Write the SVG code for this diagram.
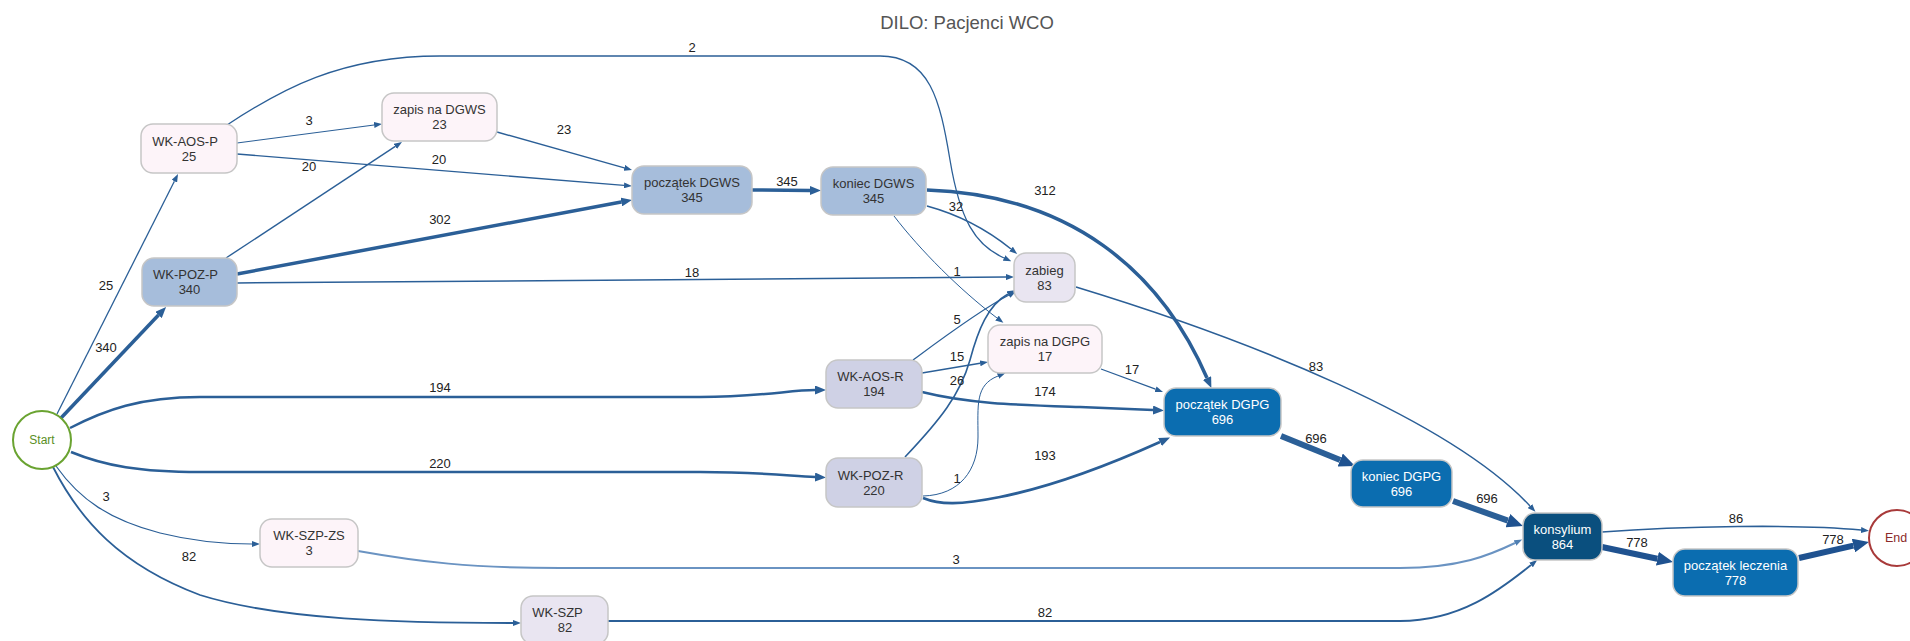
<svg xmlns="http://www.w3.org/2000/svg" width="1910" height="641" viewBox="0 0 1910 641">
<defs>
<style>
text{font-family:"Liberation Sans",Arial,sans-serif}
.title{font-size:18.5px;fill:#555;text-anchor:middle}
.n rect{stroke:#c6c6c6;stroke-width:1.5}
.n text{font-size:13px;fill:#333;text-anchor:middle}
.n.w text{fill:#fff}
.pink rect{fill:#fdf4f9}
.steel rect{fill:#a6bddb}
.lav rect{fill:#e9e5f1}
.lav2 rect{fill:#cfd1e5}
.blue rect{fill:#0b6db0}
.dark rect{fill:#0a4f7e}
.e{fill:none;stroke:#2b5f97}
.lbl{font-size:13px;fill:#222;text-anchor:middle}
</style>
<marker id="a1" markerUnits="userSpaceOnUse" markerWidth="8" markerHeight="6" refX="0" refY="3" orient="auto"><path d="M0,0 L8,3 L0,6 z" fill="#2b5f97"/></marker>
<marker id="a1l" markerUnits="userSpaceOnUse" markerWidth="8" markerHeight="6" refX="0" refY="3" orient="auto"><path d="M0,0 L8,3 L0,6 z" fill="#4f7fb3"/></marker>
<marker id="a2" markerUnits="userSpaceOnUse" markerWidth="11" markerHeight="9" refX="0" refY="4.5" orient="auto"><path d="M0,0 L11,4.5 L0,9 z" fill="#2b5f97"/></marker>
<marker id="a3" markerUnits="userSpaceOnUse" markerWidth="16" markerHeight="14" refX="0" refY="7" orient="auto"><path d="M0,0 L16,7 L0,14 z" fill="#1f5290"/></marker>
</defs>
<rect width="1910" height="641" fill="#fff"/>
<text class="title" x="967" y="29">DILO: Pacjenci WCO</text>

<g id="connectors">
<path class="e" stroke-width="1.3" marker-end="url(#a1)" d="M57,414 L174.4,181.2"/>
<path class="e" stroke-width="3.5" marker-end="url(#a2)" d="M61,418 L158.5,315"/>
<path class="e" stroke-width="2.5" marker-end="url(#a2)" d="M70,428 C105,410 140,397 200,397 L700,397 C760,397 790,390 815,390"/>
<path class="e" stroke-width="2.5" marker-end="url(#a2)" d="M71,452 C105,466 140,472 200,472 L700,472 C760,472 790,476 815,477"/>
<path class="e" stroke-width="1.2" marker-end="url(#a1)" d="M56,466 C80,500 110,520 160,533 C200,543 230,544 252,544"/>
<path class="e" stroke-width="1.8" marker-end="url(#a1)" d="M53,467 C80,520 120,565 200,595 C280,620 400,623 513,623"/>
<path class="e" stroke-width="1.2" marker-end="url(#a1)" d="M237,143 L374.1,125"/>
<path class="e" stroke-width="1.4" marker-end="url(#a1)" d="M237,154 L624,185.4"/>
<path class="e" stroke-width="1.4" marker-end="url(#a1)" d="M226,258 L395.3,146.4"/>
<path class="e" stroke-width="3.5" marker-end="url(#a2)" d="M237,274 L621.2,202"/>
<path class="e" stroke-width="1.5" marker-end="url(#a1)" d="M237,283 L1006,277.1"/>
<path class="e" stroke-width="1.3" marker-end="url(#a1)" d="M227,125 C280,90 340,56 440,56 L880,56 C930,56 940,100 950,160 C960,220 975,245 1004,258"/>
<path class="e" stroke-width="1.4" marker-end="url(#a1)" d="M497,132 L624.3,167.8"/>
<path class="e" stroke-width="3.5" marker-end="url(#a2)" d="M752,190 L810,190.5"/>
<path class="e" stroke-width="1.6" marker-end="url(#a1)" d="M927,206 C960,215 990,232 1011,249"/>
<path class="e" stroke-width="3.5" marker-end="url(#a2)" d="M927,190 C1070,195 1160,270 1207,378"/>
<path class="e" stroke-width="1" marker-end="url(#a1)" d="M894,216 C920,250 960,290 997,318"/>
<path class="e" stroke-width="1.5" marker-end="url(#a1)" d="M1076,287 C1250,340 1450,420 1530,506"/>
<path class="e" stroke-width="1.3" marker-end="url(#a1)" d="M913,360 C940,340 980,310 1009,295"/>
<path class="e" stroke-width="1.4" marker-end="url(#a1)" d="M922,373 L980.1,363.3"/>
<path class="e" stroke-width="2.5" marker-end="url(#a2)" d="M922,392 C970,404 1020,405 1080,407 L1153,410"/>
<path class="e" stroke-width="1.6" marker-end="url(#a1)" d="M905,457 C940,420 960,395 970,360 C978,330 988,305 1008,294"/>
<path class="e" stroke-width="1" marker-end="url(#a1)" d="M923,496 C960,495 978,470 978,437 C978,405 975,385 998,376"/>
<path class="e" stroke-width="2.8" marker-end="url(#a2)" d="M923,498 C940,505 960,505 1000,497 C1060,485 1120,460 1160,442"/>
<path class="e" stroke-width="1.3" marker-end="url(#a1)" d="M1101,369 L1155.5,389.2"/>
<path class="e" stroke-width="6" stroke="#1f5290" marker-end="url(#a3)" d="M1281,436 L1340.2,460"/>
<path class="e" stroke-width="6" stroke="#1f5290" marker-end="url(#a3)" d="M1453,501 L1507.9,520.6"/>
<path class="e" stroke-width="2" style="stroke:#6a93c2" marker-end="url(#a1l)" d="M358,551 C420,562 470,568 560,568 L1400,568 C1460,568 1490,555 1515,543"/>
<path class="e" stroke-width="1.8" marker-end="url(#a1)" d="M608,621 L1400,621 C1460,621 1500,590 1531,565"/>
<path class="e" stroke-width="1.6" marker-end="url(#a1)" d="M1602,532 C1680,526 1800,524 1861,530"/>
<path class="e" stroke-width="6" style="stroke:#1f5290" marker-end="url(#a3)" d="M1602,547 L1657.4,558.7"/>
<path class="e" stroke-width="6" style="stroke:#1f5290" marker-end="url(#a3)" d="M1799,558 L1853.4,545.6"/>
<g class="labels">
<text class="lbl" x="106" y="290">25</text>
<text class="lbl" x="106" y="352">340</text>
<text class="lbl" x="440" y="392">194</text>
<text class="lbl" x="440" y="468">220</text>
<text class="lbl" x="106" y="501">3</text>
<text class="lbl" x="189" y="561">82</text>
<text class="lbl" x="309" y="125">3</text>
<text class="lbl" x="439" y="164">20</text>
<text class="lbl" x="309" y="171">20</text>
<text class="lbl" x="440" y="224">302</text>
<text class="lbl" x="692" y="277">18</text>
<text class="lbl" x="692" y="52">2</text>
<text class="lbl" x="564" y="134">23</text>
<text class="lbl" x="787" y="186">345</text>
<text class="lbl" x="956" y="211">32</text>
<text class="lbl" x="1045" y="195">312</text>
<text class="lbl" x="957" y="276">1</text>
<text class="lbl" x="1316" y="371">83</text>
<text class="lbl" x="957" y="324">5</text>
<text class="lbl" x="957" y="361">15</text>
<text class="lbl" x="1045" y="396">174</text>
<text class="lbl" x="957" y="385">26</text>
<text class="lbl" x="957" y="483">1</text>
<text class="lbl" x="1045" y="460">193</text>
<text class="lbl" x="1132" y="374">17</text>
<text class="lbl" x="1316" y="443">696</text>
<text class="lbl" x="1487" y="503">696</text>
<text class="lbl" x="956" y="564">3</text>
<text class="lbl" x="1045" y="617">82</text>
<text class="lbl" x="1736" y="523">86</text>
<text class="lbl" x="1637" y="547">778</text>
<text class="lbl" x="1833" y="544">778</text>
</g>
</g>

<g id="start"><circle cx="42" cy="440" r="29" fill="#fff" stroke="#6aa331" stroke-width="2"/><text x="42" y="444" font-size="12" fill="#5a8f25" text-anchor="middle">Start</text></g>
<g id="end"><circle cx="1897" cy="538" r="28" fill="#fff" stroke="#a83a3a" stroke-width="2"/><text x="1896" y="542" font-size="12.5" fill="#8b2a2a" text-anchor="middle">End</text></g>

<g id="wk-aos-p" class="n pink"><rect x="141" y="124" width="96" height="49" rx="12"/><text x="185" y="145.5">WK-AOS-P</text><text x="189" y="160.5">25</text></g>
<g id="zapis-dgws" class="n pink"><rect x="382" y="93" width="115" height="48" rx="12"/><text x="439.5" y="114">zapis na DGWS</text><text x="439.5" y="129">23</text></g>
<g id="wk-poz-p" class="n steel"><rect x="142" y="258" width="95" height="48" rx="12"/><text x="185.5" y="279">WK-POZ-P</text><text x="189.5" y="294">340</text></g>
<g id="poczatek-dgws" class="n steel"><rect x="632" y="166" width="120" height="48" rx="12"/><text x="692" y="187">początek DGWS</text><text x="692" y="202">345</text></g>
<g id="koniec-dgws" class="n steel"><rect x="821" y="167" width="105" height="48" rx="12"/><text x="873.5" y="188">koniec DGWS</text><text x="873.5" y="203">345</text></g>
<g id="zabieg" class="n lav"><rect x="1014" y="253" width="61" height="49" rx="12"/><text x="1044.5" y="274.5">zabieg</text><text x="1044.5" y="289.5">83</text></g>
<g id="zapis-dgpg" class="n pink"><rect x="988" y="325" width="114" height="48" rx="12"/><text x="1045" y="346">zapis na DGPG</text><text x="1045" y="361">17</text></g>
<g id="wk-aos-r" class="n lav2"><rect x="826" y="360" width="96" height="48" rx="12"/><text x="870.5" y="381">WK-AOS-R</text><text x="874" y="396">194</text></g>
<g id="wk-poz-r" class="n lav2"><rect x="826" y="458" width="96" height="49" rx="12"/><text x="870.5" y="479.5">WK-POZ-R</text><text x="874" y="494.5">220</text></g>
<g id="wk-szp-zs" class="n pink"><rect x="260" y="519" width="98" height="48" rx="12"/><text x="309" y="540">WK-SZP-ZS</text><text x="309" y="555">3</text></g>
<g id="wk-szp" class="n lav"><rect x="521" y="596" width="87" height="48" rx="12"/><text x="557.5" y="617">WK-SZP</text><text x="565" y="632">82</text></g>
<g id="poczatek-dgpg" class="n w blue"><rect x="1164" y="388" width="117" height="48" rx="12"/><text x="1222.5" y="409">początek DGPG</text><text x="1222.5" y="424">696</text></g>
<g id="koniec-dgpg" class="n w blue"><rect x="1351" y="460" width="101" height="47" rx="12"/><text x="1401.5" y="480.5">koniec DGPG</text><text x="1401.5" y="495.5">696</text></g>
<g id="konsylium" class="n w dark"><rect x="1523" y="513" width="79" height="47" rx="12"/><text x="1562.5" y="533.5">konsylium</text><text x="1562.5" y="548.5">864</text></g>
<g id="poczatek-leczenia" class="n w blue"><rect x="1673" y="549" width="125" height="47" rx="12"/><text x="1735.5" y="569.5">początek leczenia</text><text x="1735.5" y="584.5">778</text></g>
</svg>
